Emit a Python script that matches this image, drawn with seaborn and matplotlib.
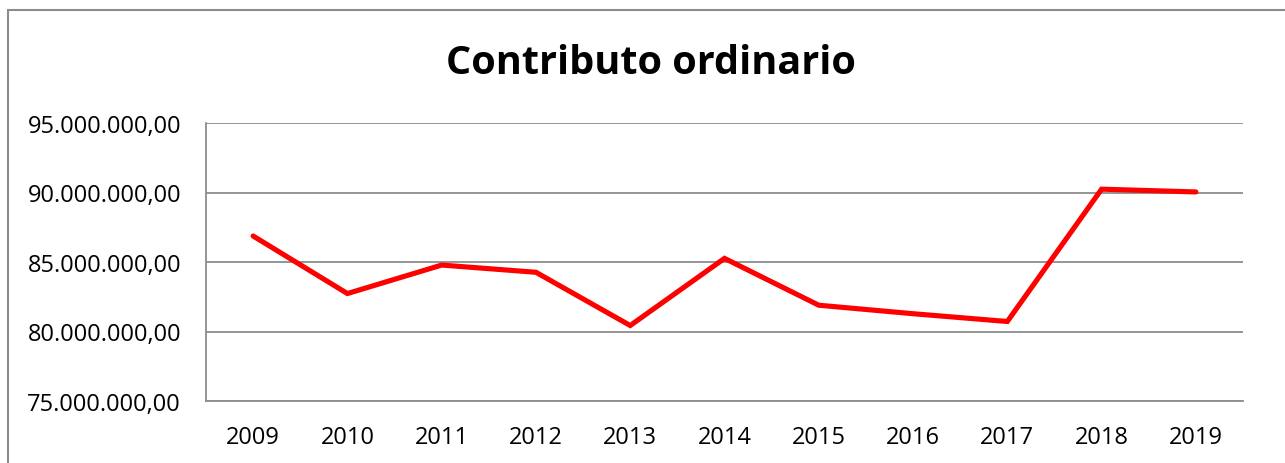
import matplotlib
matplotlib.use("Agg")
import matplotlib.pyplot as plt
import pandas as pd
import seaborn as sns
from matplotlib.patches import Rectangle
from matplotlib.ticker import FuncFormatter, MultipleLocator

years = ["2009", "2010", "2011", "2012", "2013", "2014", "2015", "2016", "2017", "2018", "2019"]
contributo = [
    86870000, 82730000, 84780000, 84260000, 80430000, 85260000,
    81890000, 81280000, 80720000, 90240000, 90040000,
]


def it_format(v, _pos=None) -> str:
    s = f"{v:,.2f}"
    return s.replace(",", "X").replace(".", ",").replace("X", ".")


def main() -> None:
    df = pd.DataFrame({"anno": years, "valore": contributo})

    sns.set_theme(style="white")
    plt.rcParams["font.family"] = ["Open Sans", "DejaVu Sans"]

    fig = plt.figure(figsize=(12.85, 4.64), dpi=100)
    ax = fig.add_axes([206 / 1285, 1 - 402 / 464, (1243 - 206) / 1285, (402 - 124) / 464])

    sns.lineplot(data=df, x="anno", y="valore", color="#ff0000", linewidth=3.7,
                 sort=False, ax=ax, solid_capstyle="round", solid_joinstyle="miter")

    ax.set_xlim(-0.5, len(years) - 0.5)
    ax.set_ylim(75_000_000, 95_000_000)
    ax.yaxis.set_major_locator(MultipleLocator(5_000_000))
    ax.yaxis.set_major_formatter(FuncFormatter(it_format))
    ax.grid(axis="y", color="#8c8c8c", linewidth=1.3)
    ax.set_axisbelow(True)
    ax.set_xlabel("")
    ax.set_ylabel("")

    for side in ["top", "right"]:
        ax.spines[side].set_visible(False)
    for side in ["left", "bottom"]:
        ax.spines[side].set_color("#8c8c8c")
        ax.spines[side].set_linewidth(1.3)

    ax.tick_params(axis="y", length=0, pad=18, labelsize=17, labelcolor="black")
    ax.tick_params(axis="x", length=0, pad=17, labelsize=17, labelcolor="black")

    fig.text(651 / 1285, 1 - 63 / 464, "Contributo ordinario", ha="center", va="center",
             fontsize=28.5, fontweight="bold", color="black")

    # chart border
    fig.patches.append(Rectangle((8 / 1285, -0.1), 1.2, 1 - 11 / 464 + 0.1,
                                 transform=fig.transFigure, fill=False,
                                 edgecolor="#8c8c8c", linewidth=1.5))

    fig.savefig("out.png", dpi=100)
    plt.close(fig)


if __name__ == "__main__":
    main()
